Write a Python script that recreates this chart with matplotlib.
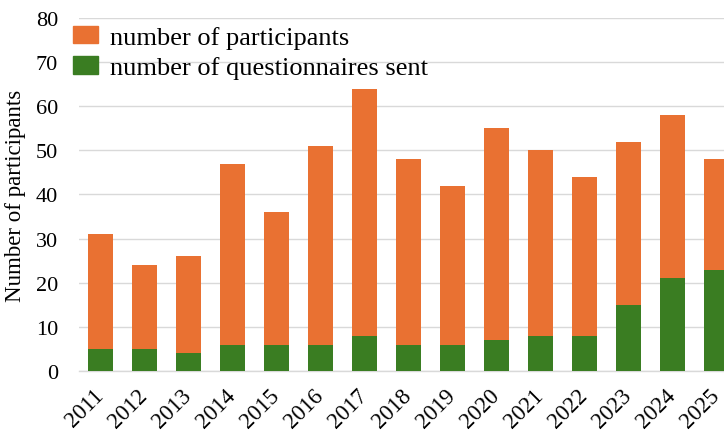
import matplotlib
matplotlib.use("Agg")
import matplotlib.pyplot as plt
import numpy as np
from matplotlib.patches import Patch

years = ["2011", "2012", "2013", "2014", "2015", "2016", "2017", "2018",
         "2019", "2020", "2021", "2022", "2023", "2024", "2025"]
participants = [31, 24, 26, 47, 36, 51, 64, 48, 42, 55, 50, 44, 52, 58, 48]
questionnaires = [5, 5, 4, 6, 6, 6, 8, 6, 6, 7, 8, 8, 15, 21, 23]
yticks = [0, 10, 20, 30, 40, 50, 60, 70, 80]

orange = "#E97132"
green = "#3A7D22"

plt.rcParams['font.family'] = ['Liberation Serif', 'DejaVu Serif']

fig = plt.figure(figsize=(7.24, 4.35), dpi=100)
ax = fig.add_axes([79/724, 1 - 372/435, 1 - 79/724, (372 - 19)/435])

x = np.arange(len(years))
w = 0.57
ax.bar(x, participants, width=w, color=orange, zorder=3, label="number of participants")
ax.bar(x, questionnaires, width=w, color=green, zorder=4, label="number of questionnaires sent")

ax.set_ylim(0, 80)
ax.set_xlim(-0.49, 14.18)
ax.set_yticks(yticks)
ax.set_xticks(x)
ax.set_xticklabels(years, rotation=45, ha='right', va='center', rotation_mode='anchor', fontsize=16.5)
ax.tick_params(axis='x', length=0, pad=15)
ax.tick_params(axis='y', length=0, pad=15, labelsize=16)
ax.grid(axis='y', color='#d9d9d9', linewidth=1.0, zorder=0)
for s in ['left', 'right', 'top']:
    ax.spines[s].set_visible(False)
ax.spines['bottom'].set_color('#d9d9d9')
ax.spines['bottom'].set_linewidth(1.0)
ax.set_ylabel("Number of participants", fontsize=16.5, labelpad=7)

handles = [Patch(color=orange), Patch(color=green)]
fig.legend(handles, ["number of participants", "number of questionnaires sent"],
           loc='upper left', bbox_to_anchor=(70/724, 1 - 24/435), frameon=False,
           fontsize=19, handlelength=0.95, handleheight=0.65, handletextpad=0.45,
           labelspacing=0.28, borderaxespad=0, borderpad=0.1)

fig.savefig("out.png", dpi=100)
